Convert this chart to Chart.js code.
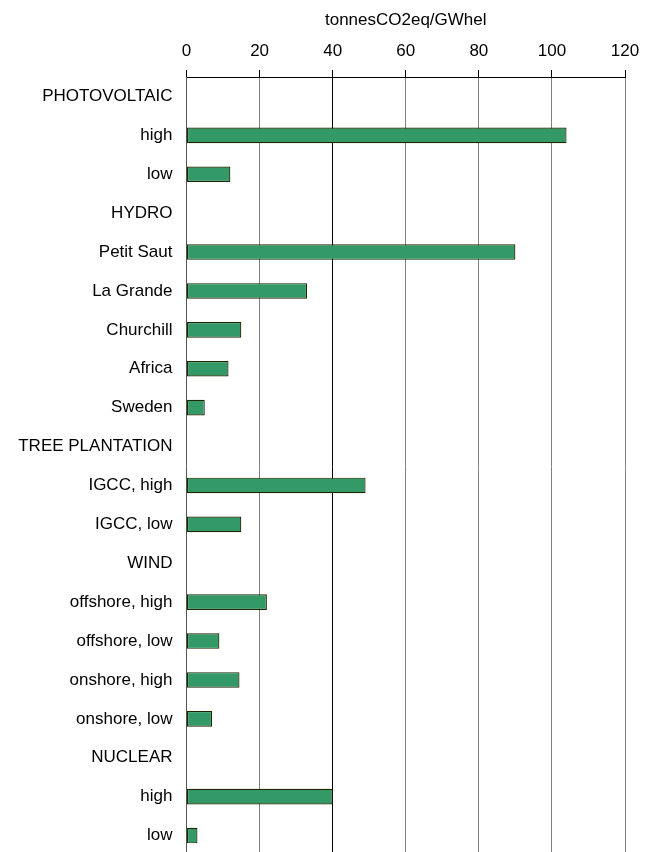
<!DOCTYPE html>
<html>
<head>
<meta charset="utf-8">
<script src="https://cdn.jsdelivr.net/npm/chart.js@4/dist/chart.umd.min.js"></script>
<style>
  html, body { margin: 0; padding: 0; background: #fff; overflow: hidden; }
  #wrap { width: 657px; height: 855px; }
</style>
</head>
<body>
<div id="wrap"><canvas id="c" width="657" height="855"></canvas></div>
<script>
const categories = [
  "PHOTOVOLTAIC", "high", "low",
  "HYDRO", "Petit Saut", "La Grande", "Churchill", "Africa", "Sweden",
  "TREE PLANTATION", "IGCC, high", "IGCC, low",
  "WIND", "offshore, high", "offshore, low", "onshore, high", "onshore, low",
  "NUCLEAR", "high", "low"
];
const values = [
  null, 104, 12,
  null, 90, 33, 15, 11.5, 5,
  null, 49, 15,
  null, 22, 9, 14.5, 7,
  null, 40, 3
];
const xTicks = [0, 20, 40, 60, 80, 100, 120];
const axisTitle = "tonnesCO2eq/GWhel";

const FONT = "'Liberation Sans', Arial, Helvetica, sans-serif";

new Chart(document.getElementById('c'), {
  type: 'bar',
  data: {
    labels: categories,
    datasets: [{
      data: values,
      backgroundColor: '#339966',
      borderColor: '#1c2600',
      borderWidth: 1.2,
      borderSkipped: false,
      categoryPercentage: 1,
      barPercentage: 0.4
    }]
  },
  options: {
    indexAxis: 'y',
    responsive: false,
    animation: false,
    devicePixelRatio: 1,
    layout: { padding: { top: 0, right: 32, bottom: 0, left: 0 } },
    plugins: { legend: { display: false }, tooltip: { enabled: false } },
    scales: {
      x: {
        position: 'top',
        min: xTicks[0],
        max: xTicks[xTicks.length - 1],
        afterBuildTicks: (s) => { s.ticks = xTicks.map(v => ({ value: v })); },
        afterFit: (s) => { s.height = 77; s.paddingLeft = 0; s.paddingRight = 0; },
        ticks: {
          color: '#000',
          font: { family: FONT, size: 17 },
          padding: 8,
          maxRotation: 0
        },
        grid: {
          drawTicks: true,
          tickLength: 7,
          tickColor: '#000',
          color: (ctx) => {
            const v = ctx.tick ? ctx.tick.value : null;
            if (v === 0) return 'rgba(0,0,0,0)';
            if (v === 40) return '#000';
            return '#808080';
          },
          lineWidth: 1
        },
        border: { display: true, color: '#000', width: 1 },
        title: {
          display: true,
          text: axisTitle,
          color: '#000',
          font: { family: FONT, size: 17 },
          padding: { top: 10, bottom: 0 }
        }
      },
      y: {
        afterFit: (s) => { s.width = 186.5; s.paddingTop = 0; s.paddingBottom = 0; },
        ticks: {
          color: '#000',
          font: { family: FONT, size: 17 },
          padding: 14
        },
        grid: { display: false, drawTicks: false },
        border: { display: true, color: '#555', width: 1 }
      }
    }
  }
});
</script>
</body>
</html>
